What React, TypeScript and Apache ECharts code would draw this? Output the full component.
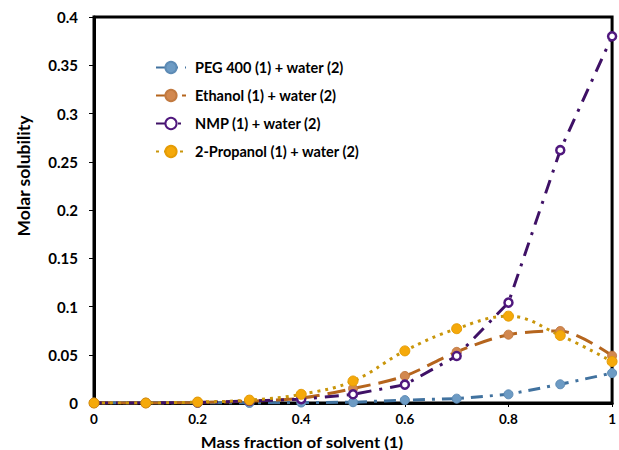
import React, { useEffect, useRef } from "react";
import * as echarts from "echarts";

const xValues = [0, 0.1, 0.2, 0.3, 0.4, 0.5, 0.6, 0.7, 0.8, 0.9, 1.0];
const pegValues = [0, 0, 0, 0, 0.0005, 0.0008, 0.003, 0.0045, 0.009, 0.0194, 0.031];
const ethanolValues = [0, 0, 0.0005, 0.002, 0.005, 0.015, 0.028, 0.053, 0.0708, 0.0746, 0.049];
const nmpValues = [0, 0, 0.0005, 0.002, 0.004, 0.009, 0.019, 0.0487, 0.104, 0.262, 0.38];
const propanolValues = [0, 0, 0.001, 0.003, 0.009, 0.0228, 0.054, 0.077, 0.09, 0.07, 0.043];
const seriesNames = [
  "PEG 400 (1) + water (2)",
  "Ethanol (1) + water (2)",
  "NMP (1) + water (2)",
  "2-Propanol (1) + water (2)",
];

const FONT = "Lato, 'Liberation Sans', sans-serif";

function pairs(vals: number[]) {
  return xValues.map((x, i) => [x, vals[i]]);
}

export default function App() {
  const ref = useRef<HTMLDivElement>(null);
  useEffect(() => {
    if (!ref.current) return;
    const chart = echarts.init(ref.current, undefined, { renderer: "svg" });
    chart.setOption({
      animation: false,
      backgroundColor: "#ffffff",
      grid: { left: 94, right: 6, top: 17, bottom: 47, show: true, borderColor: "#000", borderWidth: 3, backgroundColor: "transparent" },
      legend: {
        orient: "vertical",
        left: 150,
        top: 55,
        itemWidth: 30,
        itemHeight: 14,
        itemGap: 13,
        textStyle: { fontFamily: FONT, fontWeight: "bold", fontSize: 14.5, lineHeight: 14, color: "#000", padding: [0, 0, 0, 4] },
        data: seriesNames,
      },
      xAxis: {
        type: "value",
        min: 0,
        max: 1,
        interval: 0.2,
        axisLine: { show: true, lineStyle: { color: "#000", width: 3 } },
        axisTick: { show: true, length: 4, lineStyle: { color: "#000", width: 1 } },
        axisLabel: { fontFamily: FONT, fontWeight: "bold", fontSize: 13.5, color: "#000", margin: 9 },
        splitLine: { show: false },
      },
      yAxis: {
        type: "value",
        min: 0,
        max: 0.4,
        interval: 0.05,
        axisLine: { show: true, lineStyle: { color: "#000", width: 3 } },
        axisTick: { show: true, length: 5, lineStyle: { color: "#000", width: 1 } },
        axisLabel: { fontFamily: FONT, fontWeight: "bold", fontSize: 15, color: "#000", margin: 16, formatter: (v: number) => String(Math.round(v * 100) / 100) },
        splitLine: { show: false },
      },
      graphic: [
        {
          type: "text",
          x: 23,
          y: 176,
          rotation: Math.PI / 2,
          style: { text: "Molar solubility", fontFamily: FONT, fontWeight: "bold", fontSize: 17.5, fill: "#000", align: "center", verticalAlign: "middle" },
        },
        {
          type: "text",
          x: 302,
          y: 442,
          scaleX: 1.12,
          style: { text: "Mass fraction of solvent (1)", fontFamily: FONT, fontWeight: "bold", fontSize: 15, fill: "#000", align: "center", verticalAlign: "middle" },
        },
      ],
      series: [
        {
          name: seriesNames[0],
          type: "line",
          data: pairs(pegValues),
          symbol: "circle",
          symbolSize: 9,
          lineStyle: { color: "#41729f", width: 3, type: [12, 7, 3, 7] },
          itemStyle: { color: "#6d9bc4", borderColor: "#5d8bb5", borderWidth: 1 },
        },
        {
          name: seriesNames[1],
          type: "line",
          data: pairs(ethanolValues),
          smooth: 0.3,
          symbol: "circle",
          symbolSize: 9,
          lineStyle: { color: "#b5651d", width: 3, type: [18, 8] },
          itemStyle: { color: "#d2884f", borderColor: "#c27a40", borderWidth: 1 },
        },
        {
          name: seriesNames[2],
          type: "line",
          data: pairs(nmpValues),
          symbol: "circle",
          symbolSize: 8,
          lineStyle: { color: "#3f1166", width: 3, type: [14, 8, 3, 8] },
          itemStyle: { color: "#ffffff", borderColor: "#50187e", borderWidth: 2.5 },
        },
        {
          name: seriesNames[3],
          type: "line",
          data: pairs(propanolValues),
          smooth: 0.4,
          symbol: "circle",
          symbolSize: 10,
          lineStyle: { color: "#c9960b", width: 3, type: [3, 5] },
          itemStyle: { color: "#f5a90a", borderColor: "#e59c05", borderWidth: 1 },
        },
      ],
    });
    return () => chart.dispose();
  }, []);
  return <div ref={ref} style={{ position: "fixed", left: 0, top: 0, width: 619, height: 450 }} />;
}
